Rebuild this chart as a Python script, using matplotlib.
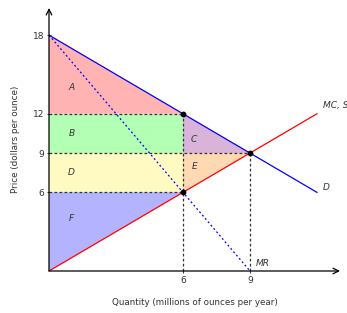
import matplotlib
matplotlib.use("Agg")
import matplotlib.pyplot as plt
import numpy as np

# Data
demand_x = [0, 12]
demand_y = [18, 6]
mr_x = [0, 9]
mr_y = [18, 0]
mc_x = [0, 12]
mc_y = [0, 12]
x_ticks = [6, 9]
y_ticks = [6, 9, 12, 18]
points_x = [6, 9, 6]
points_y = [12, 9, 6]

regions = {
    "A": ([0, 6, 0], [18, 12, 12], "#ffb3b3", (1.0, 14.0)),
    "B": ([0, 6, 6, 0], [12, 12, 9, 9], "#b3ffb3", (1.0, 10.5)),
    "C": ([6, 9, 6], [12, 9, 9], "#d9b3d9", (6.5, 10.0)),
    "D": ([0, 6, 6, 0], [9, 9, 6, 6], "#fffac2", (1.0, 7.5)),
    "E": ([6, 9, 6], [9, 9, 6], "#ffd9b3", (6.5, 8.0)),
    "F": ([0, 6, 0], [6, 6, 0], "#b3b3ff", (1.0, 4.0)),
}

fig = plt.figure(figsize=(3.47, 3.13), dpi=100)
ax = fig.add_axes([49/347, 42/313, 291/347, 263/313])
ax.set_xlim(0, 13.03)
ax.set_ylim(0, 20.07)

for name, (xs, ys, col, lab) in regions.items():
    ax.fill(xs, ys, color=col, lw=0, zorder=1)
    ax.text(lab[0], lab[1], name, fontsize=6.5, style="italic", color="#333333",
            ha="center", va="center", zorder=5)

dash = dict(color="#333333", lw=0.9, ls=(0, (2.2, 1.8)), zorder=2)
ax.plot([0, 6], [12, 12], **dash)
ax.plot([0, 9], [9, 9], **dash)
ax.plot([0, 6], [6, 6], **dash)
ax.plot([6, 6], [0, 12], **dash)
ax.plot([9, 9], [0, 9], **dash)

ax.plot(demand_x, demand_y, color="blue", lw=0.9, zorder=3)
ax.plot(mr_x, mr_y, color="blue", lw=0.9, ls=(0, (1.5, 2)), zorder=3)
ax.plot(mc_x, mc_y, color="red", lw=0.9, zorder=3)
ax.scatter(points_x, points_y, s=10, color="black", zorder=6)

ax.text(12.25, 12.6, "MC, S", fontsize=6.5, style="italic", color="#333333",
        ha="left", va="center", clip_on=False)
ax.text(12.25, 6.4, "D", fontsize=6.5, style="italic", color="#333333",
        ha="left", va="center", clip_on=False)
ax.text(9.25, 0.55, "MR", fontsize=6.5, style="italic", color="#333333",
        ha="left", va="center", clip_on=False)

for s in ax.spines.values():
    s.set_visible(False)
ax.annotate("", xy=(13.03, 0), xytext=(0, 0),
            arrowprops=dict(arrowstyle="->", lw=0.9, color="black", shrinkA=0, shrinkB=0),
            annotation_clip=False)
ax.annotate("", xy=(0, 20.07), xytext=(0, 0),
            arrowprops=dict(arrowstyle="->", lw=0.9, color="black", shrinkA=0, shrinkB=0),
            annotation_clip=False)

ax.set_xticks(x_ticks)
ax.set_xticklabels([str(v) for v in x_ticks])
ax.set_yticks(y_ticks)
ax.set_yticklabels([str(v) for v in y_ticks])
ax.tick_params(axis="both", labelsize=6.5, length=2.5, width=0.7, direction="inout",
               colors="#333333", pad=2)
ax.set_xlabel("Quantity (millions of ounces per year)", fontsize=6.3, color="#333333", labelpad=10)
ax.set_ylabel("Price (dollars per ounce)", fontsize=6.3, color="#333333", labelpad=9)

fig.savefig("out.png", dpi=100)
